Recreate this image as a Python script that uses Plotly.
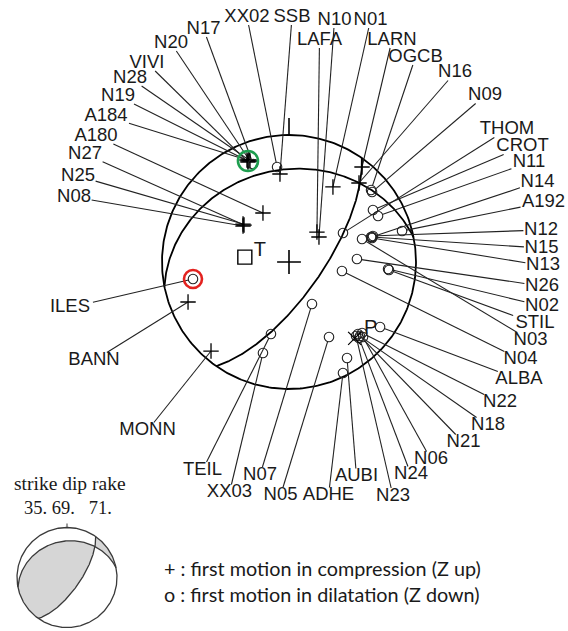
import numpy as np
import plotly.graph_objects as go

# ---------------- data ----------------
STRIKE, DIP, RAKE = 35.0, 69.0, 71.0

station_names = [
    "N20", "N17", "VIVI", "N28", "N19", "A184", "A180", "N27", "N25", "N08",
    "XX02", "SSB", "N10", "N01", "LAFA", "LARN", "OGCB", "N16", "N09", "THOM",
    "CROT", "N11", "N14", "A192", "N12", "N15", "N13", "N26", "N02", "STIL",
    "N03", "N04", "ALBA", "N22", "N18", "N21", "N06", "N24", "N23", "AUBI",
    "ADHE", "N05", "N07", "XX03", "TEIL", "MONN", "BANN", "ILES"]

# station positions on the equal-area net (east, north; net radius = 1)
station_x = [
    -0.307, -0.283, -0.323, -0.315, -0.323, -0.331, -0.205, -0.354, -0.362, -0.362,
    -0.094, -0.071, 0.236, 0.346, 0.220, 0.575, 0.646, 0.551, 0.654, 0.425,
    0.661, 0.701, 0.654, 0.890, 0.661, 0.646, 0.654, 0.535, 0.780, 0.787,
    0.575, 0.417, 0.717, 0.575, 0.559, 0.543, 0.583, 0.551, 0.528, 0.457,
    0.425, 0.315, 0.181, -0.205, -0.142, -0.614, -0.795, -0.756]
station_y = [
    0.795, 0.772, 0.787, 0.803, 0.795, 0.803, 0.386, 0.291, 0.299, 0.283,
    0.748, 0.693, 0.197, 0.591, 0.236, 0.748, 0.567, 0.622, 0.551, 0.228,
    0.409, 0.362, 0.197, 0.244, 0.205, 0.197, 0.189, 0.024, -0.055, -0.063,
    0.181, -0.071, -0.512, -0.559, -0.583, -0.567, -0.591, -0.598, -0.583, -0.756,
    -0.874, -0.591, -0.331, -0.717, -0.567, -0.701, -0.315, -0.134]
# "+" = compression (Z up), "o" = dilatation (Z down)
station_polarity = [
    "+", "o", "+", "+", "+", "+", "+", "+", "+", "+",
    "o", "+", "+", "+", "+", "+", "o", "+", "o", "o",
    "o", "o", "o", "o", "o", "o", "o", "o", "o", "o",
    "o", "o", "o", "o", "o", "o", "o", "o", "o", "o",
    "o", "o", "o", "o", "o", "+", "+", "o"]

# label placement (page pixels) - layout
label_px = [
    171, 203.5, 147, 130, 118, 106, 96, 85, 78, 74,
    247, 292, 334.5, 370.5, 319.5, 392, 415.5, 455, 485, 507,
    522.5, 529, 537.5, 543.5, 541, 541.5, 543, 542, 542, 535,
    530.5, 520.5, 519, 500, 488, 463.5, 431, 411, 393, 356.5,
    328.5, 280.5, 260, 229.5, 202.5, 147.5, 94, 70]
label_py = [
    43, 29, 63, 78, 96, 116, 136, 154, 176, 197,
    17, 17, 20, 20, 40, 40, 57, 72.5, 95.5, 129.5,
    146.5, 162.5, 182, 202.5, 230, 248, 265.5, 286, 306, 323.5,
    340.5, 359.5, 379.5, 402.5, 425.5, 442.5, 459.5, 474.5, 496, 476.5,
    495.5, 495.5, 475, 492.5, 470, 430.5, 360.5, 307.5]

highlight_red = "ILES"
highlight_green = "A184"

legend_lines = ["+ : first motion in compression (Z up)",
                "o : first motion in dilatation (Z down)"]

# ---------------- layout constants ----------------
W, H = 568, 631
CX, CY, R = 289.0, 262.0, 127.0      # main net
SX, SY, SR = 67.0, 577.5, 50.0       # small beach ball
INK = "#1a1a1a"
LABEL_FONT = dict(family="Liberation Sans, Arial, sans-serif", size=18.5, color=INK)


# ---------------- focal mechanism geometry ----------------
def plane_vectors(strike, dip):
    phi, delta = np.radians(strike), np.radians(dip)
    s = np.array([np.cos(phi), np.sin(phi), 0.0])
    dd = np.array([np.cos(delta) * np.cos(phi + np.pi / 2),
                   np.cos(delta) * np.sin(phi + np.pi / 2),
                   np.sin(delta)])
    return s, dd


def project(v):
    v = np.atleast_2d(np.asarray(v, dtype=float))
    v = np.where(v[:, 2:3] < 0, -v, v)
    v = v / np.linalg.norm(v, axis=1)[:, None]
    plunge = np.arcsin(np.clip(v[:, 2], -1, 1))
    az = np.arctan2(v[:, 1], v[:, 0])
    r = np.sqrt(2) * np.sin((np.pi / 2 - plunge) / 2)
    return r * np.sin(az), r * np.cos(az)


def plane_points(strike, dip, t):
    s, dd = plane_vectors(strike, dip)
    pts = np.outer(np.cos(t), s) + np.outer(np.sin(t), dd)
    return project(pts)


phi, dl, lam = np.radians(STRIKE), np.radians(DIP), np.radians(RAKE)
n_vec = np.array([-np.sin(dl) * np.sin(phi), np.sin(dl) * np.cos(phi), -np.cos(dl)])
d_vec = np.array([np.cos(lam) * np.cos(phi) + np.cos(dl) * np.sin(lam) * np.sin(phi),
                  np.cos(lam) * np.sin(phi) - np.cos(dl) * np.sin(lam) * np.cos(phi),
                  -np.sin(lam) * np.sin(dl)])
T_vec = (n_vec + d_vec) / np.sqrt(2)
P_vec = (n_vec - d_vec) / np.sqrt(2)
B_vec = np.cross(n_vec, d_vec)
if B_vec[2] < 0:
    B_vec = -B_vec
du = -d_vec if d_vec[2] > 0 else d_vec
DIP2 = np.degrees(np.arccos(-du[2]))
STRIKE2 = (np.degrees(np.arctan2(du[1], du[0])) - 90.0) % 360

planes = [(STRIKE % 360, DIP), (STRIKE2, DIP2)]
t_full = np.linspace(0, np.pi, 300)


def to_px(x, y, cx, cy, r):
    return cx + r * np.asarray(x), cy - r * np.asarray(y)


def point_in_poly(px, py, xs, ys):
    inside = False
    n = len(xs)
    j = n - 1
    for i in range(n):
        if ((ys[i] > py) != (ys[j] > py)) and \
                (px < (xs[j] - xs[i]) * (py - ys[i]) / (ys[j] - ys[i] + 1e-12) + xs[i]):
            inside = not inside
        j = i
    return inside


def quadrants():
    ends = []
    tB = []
    for k, (stk, dp) in enumerate(planes):
        s, dd = plane_vectors(stk, dp)
        tB.append(np.arctan2(B_vec @ dd, B_vec @ s))
        ends.append((stk % 360, k, 0.0))
        ends.append(((stk + 180) % 360, k, np.pi))
    ends.sort()
    polys = []
    for i in range(4):
        a0, ka, ta = ends[i]
        a1, kb, tb = ends[(i + 1) % 4]
        if a1 <= a0:
            a1 += 360
        az = np.radians(np.linspace(a0, a1, 80))
        xs = list(np.sin(az)); ys = list(np.cos(az))
        x2, y2 = plane_points(*planes[kb], np.linspace(tb, tB[kb], 80))
        x3, y3 = plane_points(*planes[ka], np.linspace(tB[ka], ta, 80))
        xs += list(x2) + list(x3); ys += list(y2) + list(y3)
        polys.append((np.array(xs), np.array(ys)))
    tx, ty = project(T_vec)
    idx = [i for i, (xs, ys) in enumerate(polys) if point_in_poly(tx[0], ty[0], xs, ys)]
    i0 = idx[0] if idx else 0
    return [polys[i0], polys[(i0 + 2) % 4]]


fig = go.Figure()

# ---------------- small beach ball ----------------
for xs, ys in quadrants():
    px, py = to_px(xs, ys, SX, SY, SR)
    fig.add_trace(go.Scatter(x=px, y=py, mode="lines", fill="toself",
                             fillcolor="#d6d6d6", line=dict(width=0),
                             hoverinfo="skip"))
az = np.linspace(0, 2 * np.pi, 361)
px, py = to_px(np.sin(az), np.cos(az), SX, SY, SR)
fig.add_trace(go.Scatter(x=px, y=py, mode="lines", line=dict(color="#3a3a3a", width=1.3),
                         hoverinfo="skip"))
for stk, dp in planes:
    xs, ys = plane_points(stk, dp, t_full)
    px, py = to_px(xs, ys, SX, SY, SR)
    fig.add_trace(go.Scatter(x=px, y=py, mode="lines", line=dict(color="#3a3a3a", width=1.3),
                             hoverinfo="skip"))
fig.add_trace(go.Scatter(x=[SX, SX], y=[SY - SR, SY - SR - 4], mode="lines",
                         line=dict(color="#3a3a3a", width=1), hoverinfo="skip"))

# ---------------- main net ----------------
px, py = to_px(np.sin(az), np.cos(az), CX, CY, R)
fig.add_trace(go.Scatter(x=px, y=py, mode="lines", line=dict(color="black", width=1.8),
                         hoverinfo="skip"))
for stk, dp in planes:
    xs, ys = plane_points(stk, dp, t_full)
    px, py = to_px(xs, ys, CX, CY, R)
    fig.add_trace(go.Scatter(x=px, y=py, mode="lines", line=dict(color="black", width=1.8),
                             hoverinfo="skip"))
fig.add_trace(go.Scatter(x=[CX, CX], y=[CY - R, CY - R - 17], mode="lines",
                         line=dict(color="black", width=1.6), hoverinfo="skip"))

# leader lines
sxp, syp = to_px(station_x, station_y, CX, CY, R)
lx_all, ly_all = [], []
for i, name in enumerate(station_names):
    sx, sy = sxp[i], syp[i]
    lx, ly = label_px[i], label_py[i]
    dx, dy = sx - lx, sy - ly
    hw = 0.29 * LABEL_FONT["size"] * len(name) + 1.5
    hh = 8.0
    tcand = []
    if abs(dx) > 1e-9:
        tcand.append(hw / abs(dx))
    if abs(dy) > 1e-9:
        tcand.append(hh / abs(dy))
    t = min(tcand)
    ex, ey = lx + t * dx, ly + t * dy
    L = np.hypot(dx, dy)
    off = 4.5 if station_polarity[i] == "o" else 0.0
    bx, by = sx - off * dx / L, sy - off * dy / L
    lx_all += [bx, ex, None]
    ly_all += [by, ey, None]
fig.add_trace(go.Scatter(x=lx_all, y=ly_all, mode="lines",
                         line=dict(color="#222222", width=1.1), hoverinfo="skip"))

# station markers
is_c = [p == "+" for p in station_polarity]
fig.add_trace(go.Scatter(
    x=[sxp[i] for i in range(len(sxp)) if is_c[i]],
    y=[syp[i] for i in range(len(syp)) if is_c[i]],
    mode="markers", marker=dict(symbol="cross-thin", size=11,
                                line=dict(color="black", width=1.3)),
    hoverinfo="skip"))
fig.add_trace(go.Scatter(
    x=[sxp[i] for i in range(len(sxp)) if not is_c[i]],
    y=[syp[i] for i in range(len(syp)) if not is_c[i]],
    mode="markers", marker=dict(symbol="circle-open", size=9.5, color="#222222",
                                line=dict(color="#222222", width=1.1)),
    hoverinfo="skip"))

# station labels
fig.add_trace(go.Scatter(x=label_px, y=label_py, mode="text", text=station_names,
                         textposition="middle center", textfont=LABEL_FONT,
                         hoverinfo="skip", cliponaxis=False))

# centre, T and P axes
fig.add_trace(go.Scatter(x=[CX], y=[CY], mode="markers",
                         marker=dict(symbol="cross-thin", size=17,
                                     line=dict(color="black", width=1.6)),
                         hoverinfo="skip"))
tx, ty = project(T_vec)
tpx, tpy = to_px(tx, ty, CX, CY, R)
fig.add_trace(go.Scatter(x=tpx, y=tpy, mode="markers",
                         marker=dict(symbol="square-open", size=14, color="black",
                                     line=dict(color="black", width=1.4)),
                         hoverinfo="skip"))
pxv, pyv = project(P_vec)
ppx, ppy = to_px(pxv, pyv, CX, CY, R)
fig.add_trace(go.Scatter(x=ppx, y=ppy, mode="markers",
                         marker=dict(symbol="x-thin", size=13,
                                     line=dict(color="black", width=1.2)),
                         hoverinfo="skip"))
fig.add_trace(go.Scatter(x=[tpx[0] + 15, ppx[0] + 16], y=[tpy[0] - 6, ppy[0] - 9],
                         mode="text", text=["T", "P"], textposition="middle center",
                         textfont=dict(family="Liberation Sans, Arial, sans-serif",
                                       size=20, color=INK),
                         hoverinfo="skip"))

# highlight rings
ir = station_names.index(highlight_red)
ig = station_names.index(highlight_green)
fig.add_trace(go.Scatter(x=[sxp[ir]], y=[syp[ir]], mode="markers",
                         marker=dict(symbol="circle-open", size=18, color="#e3221f",
                                     line=dict(color="#e3221f", width=2.6)),
                         hoverinfo="skip"))
fig.add_trace(go.Scatter(x=[sxp[ig] + 1], y=[syp[ig] + 1], mode="markers",
                         marker=dict(symbol="circle-open", size=20, color="#1e9e4f",
                                     line=dict(color="#1e9e4f", width=2.6)),
                         hoverinfo="skip"))

# ---------------- annotations (small ball header + legend) ----------------
serif = dict(family="Liberation Serif, Times New Roman, serif", size=19.5, color=INK)
fig.add_annotation(x=70, y=483, text="strike dip rake", showarrow=False,
                   font=serif, xanchor="center", yanchor="middle")
fig.add_annotation(x=68, y=508, text=f"{STRIKE:.0f}. {DIP:.0f}.&nbsp;&nbsp;&nbsp;{RAKE:.0f}.",
                   showarrow=False, font=dict(serif, size=18.5), xanchor="center",
                   yanchor="middle")
sans = dict(family="Lato, Open Sans, sans-serif", size=19.8, color=INK)
fig.add_annotation(x=162, y=568, text=legend_lines[0], showarrow=False, font=sans,
                   xanchor="left", yanchor="middle")
fig.add_annotation(x=162, y=594, text=legend_lines[1], showarrow=False, font=sans,
                   xanchor="left", yanchor="middle")

fig.update_layout(
    width=W, height=H, margin=dict(l=0, r=0, t=0, b=0),
    paper_bgcolor="white", plot_bgcolor="white", showlegend=False,
    hovermode=False,
    xaxis=dict(range=[0, W], visible=False, fixedrange=True),
    yaxis=dict(range=[H, 0], visible=False, fixedrange=True),
)
fig.write_html("out.html", config={"displayModeBar": False},
               post_script="document.body.style.margin='0px';"
                           "document.body.style.overflow='hidden';")
